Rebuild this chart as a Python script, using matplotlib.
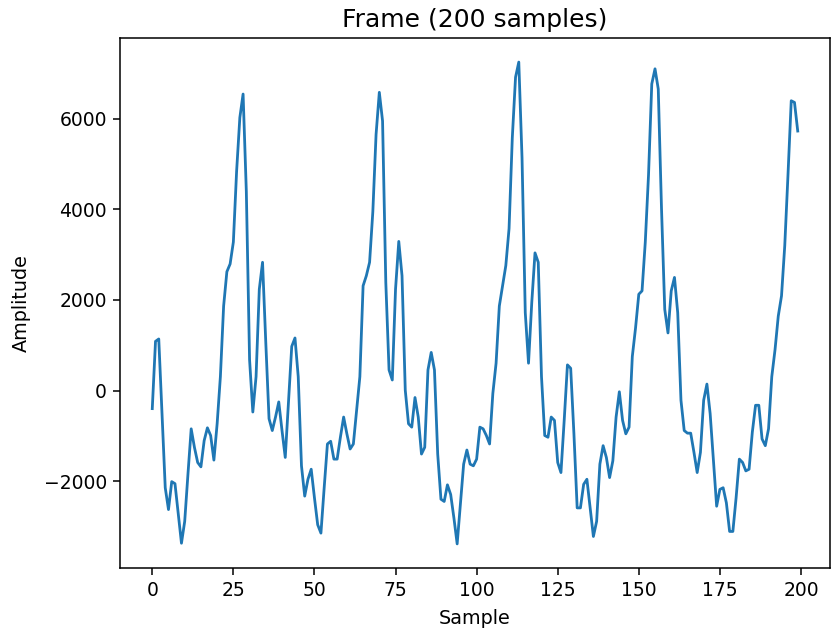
import numpy as np
import matplotlib
matplotlib.use("Agg")
import matplotlib.pyplot as plt

# Frame values (200 samples)
amp_0_49 = [-400, 1086, 1138, -510, -2147, -2629, -2012, -2057, -2704, -3372,
            -2889, -1849, -846, -1255, -1589, -1686, -1106, -824, -994, -1537,
            -734, 306, 1865, 2623, 2794, 3278, 4838, 6027, 6546, 4392,
            677, -475, 306, 2237, 2831, 1056, -623, -884, -586, -252,
            -884, -1478, -252, 974, 1160, 306, -1663, -2332, -1960, -1738]
amp_50_99 = [-2369, -2964, -3149, -2147, -1181, -1121, -1515, -1515, -1032, -586,
             -957, -1292, -1181, -431, 304, 2312, 2534, 2831, 3946, 5655,
             6584, 5952, 2386, 454, 232, 2237, 3292, 2534, 8, -734,
             -809, -155, -586, -1403, -1254, 454, 841, 454, -1403, -2400,
             -2450, -2083, -2295, -2815, -3387, -2517, -1626, -1314, -1626, -1663]
amp_100_149 = [-1515, -809, -846, -994, -1181, -66, 603, 1865, 2312, 2758,
               3575, 5580, 6918, 7252, 5135, 1717, 603, 1940, 3039, 2831,
               306, -994, -1032, -586, -660, -1589, -1812, -660, 566, 491,
               -957, -2592, -2592, -2072, -1960, -2592, -3223, -2889, -1626, -1218,
               -1478, -1923, -1551, -586, -28, -660, -957, -809, 751, 1383]
amp_150_199 = [2126, 2200, 3278, 4763, 6769, 7103, 6658, 4020, 1792, 1271,
               2200, 2497, 1717, -215, -884, -942, -942, -1363, -1812, -1366,
               -215, 142, -512, -1551, -2555, -2183, -2147, -2480, -3112, -3112,
               -2369, -1515, -1589, -1775, -1738, -920, -326, -326, -1069, -1218,
               -846, 306, 900, 1643, 2089, 3197, 4766, 6398, 6361, 5729]

frame = np.array(amp_0_49 + amp_50_99 + amp_100_149 + amp_150_199)
samples = np.arange(len(frame))

fig = plt.figure(figsize=(8.31, 6.33), dpi=100)
ax = fig.add_axes([0.1444, 0.1027, 0.8544, 0.8373])
ax.plot(samples, frame, color='#1f77b4', linewidth=2.0)

ax.set_title('Frame (200 samples)', fontsize=18, pad=8)
ax.set_xlabel('Sample', fontsize=13.8, labelpad=6.5)
ax.set_ylabel('Amplitude', fontsize=13.8, labelpad=9)
ax.tick_params(labelsize=13.5, length=5, width=1.1, pad=4.5)
for sp in ax.spines.values():
    sp.set_linewidth(1.1)

fig.savefig('out.png', dpi=100)
